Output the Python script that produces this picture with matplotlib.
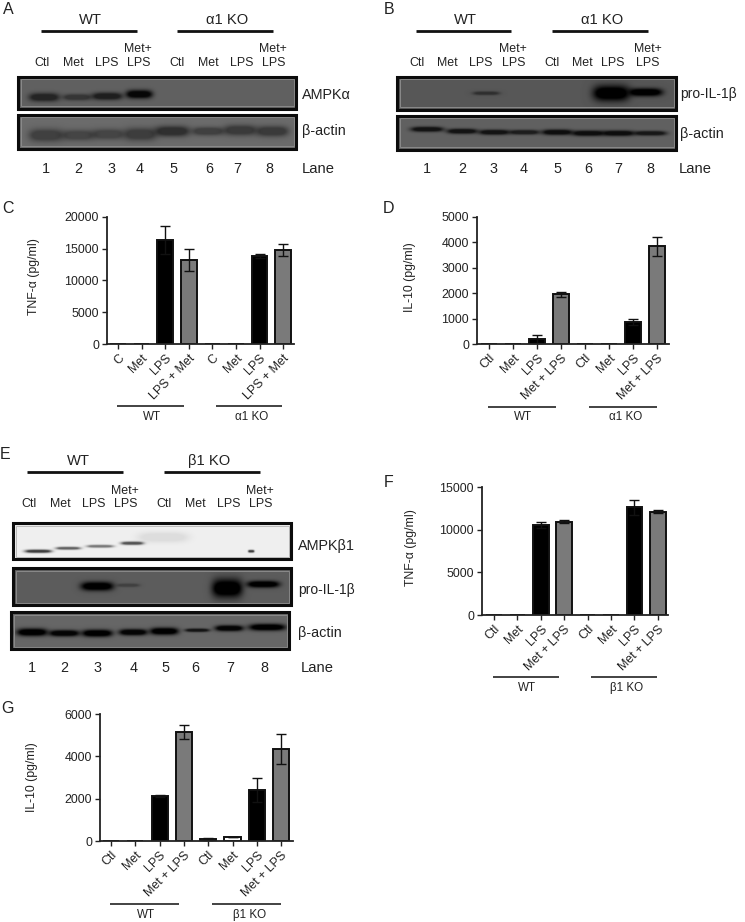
import numpy as np
import matplotlib
matplotlib.use('Agg')
import matplotlib.pyplot as plt
from matplotlib.patches import Rectangle

plt.rcParams['font.family'] = ['Liberation Sans', 'DejaVu Sans']

W, H = 745, 922
TEXT = '#222222'

# ---- bar chart values (pg/ml) ----
C_LABELS = ['C', 'Met', 'LPS', 'LPS + Met', 'C', 'Met', 'LPS', 'LPS + Met']
OTHER_LABELS = ['Ctl', 'Met', 'LPS', 'Met + LPS', 'Ctl', 'Met', 'LPS', 'Met + LPS']

C_TNF = [0, 0, 16300, 13200, 0, 0, 13800, 14800]
C_ERR = [0, 0, 2200, 1750, 0, 0, 350, 950]
C_TICKS = [0, 5000, 10000, 15000, 20000]

D_IL10 = [0, 0, 200, 1950, 0, 0, 870, 3830]
D_ERR = [0, 0, 150, 110, 0, 0, 130, 370]
D_TICKS = [0, 1000, 2000, 3000, 4000, 5000]

F_TNF = [0, 0, 10500, 10950, 0, 0, 12600, 12100]
F_ERR = [0, 0, 350, 150, 0, 0, 850, 180]
F_TICKS = [0, 5000, 10000, 15000]

G_IL10 = [0, 0, 2130, 5150, 90, 190, 2420, 4350]
G_ERR = [0, 0, 40, 320, 40, 20, 570, 710]
G_TICKS = [0, 2000, 4000, 6000]

BAR_COLORS = ['white', 'white', 'black', '#7a7a7a'] * 2

# ---- blot band intensities, one per lane (0 = no band) ----
A_AMPK = [0.62, 0.45, 0.68, 0.92, 0, 0, 0, 0]
A_ACTIN = [0.40, 0.35, 0.35, 0.42, 0.55, 0.40, 0.45, 0.45]
B_IL1 = [0, 0, 0.45, 0, 0, 0, 1.0, 1.0]
B_ACTIN = [0.8, 0.8, 0.8, 0.7, 0.85, 0.85, 0.85, 0.75]
E_AMPK = [0.75, 0.6, 0.5, 0.65, 0.08, 0, 0, 0.75]
E_IL1 = [0, 0, 1.0, 0.3, 0, 0, 1.0, 1.0]
E_ACTIN = [1.0, 0.95, 1.0, 0.95, 1.0, 0.8, 0.95, 1.0]

LANE_TOP = ['Ctl', 'Met', 'LPS', 'LPS', 'Ctl', 'Met', 'LPS', 'LPS']
LANE_NUMS = ['1', '2', '3', '4', '5', '6', '7', '8']

fig = plt.figure(figsize=(W / 100, H / 100), dpi=100, facecolor='white')

# overlay in image pixels, for the blots, group bars and free text
pg = fig.add_axes([0, 0, 1, 1])
pg.set_xlim(0, W)
pg.set_ylim(H, 0)
pg.axis('off')


def put(x, y, s, size=8.9, ha='center', **kw):
    pg.text(x, y, s, fontsize=size, ha=ha, va='center', color=TEXT, **kw)


def draw_blot(x0, x1, y0, y1, bg, levels, xs, ys, half_w, half_h, inner='#8a8a8a'):
    # lanes are rebuilt as soft smears on a flat film background
    gx, gy = np.meshgrid(np.arange(x0, x1, 0.5), np.arange(y0, y1, 0.5))
    img = np.full(gx.shape, float(bg))
    for lvl, cx, cy, hw, hh in zip(levels, xs, ys, half_w, half_h):
        if lvl == 0:
            continue
        band = np.exp(-((gx - cx) / hw) ** 4) * np.exp(-((gy - cy) / hh) ** 2)
        # strong signal saturates the film, so the core goes flat
        img *= 1 - lvl * np.clip(1.5 * band, 0, 1)
    pg.imshow(img, extent=(x0, x1, y1, y0), cmap='gray', vmin=0, vmax=1,
              aspect='auto', interpolation='bilinear', zorder=1)
    pg.add_patch(Rectangle((x0 + 2.5, y0 + 2.5), x1 - x0 - 5, y1 - y0 - 5, fill=False,
                           ec=inner, lw=0.7, zorder=2))
    pg.add_patch(Rectangle((x0, y0), x1 - x0, y1 - y0, fill=False,
                           ec='#0c0c0c', lw=2.2, zorder=3))
    pg.set_xlim(0, W)
    pg.set_ylim(H, 0)


def blot_header(bars, group_y, names, name_xs, lab_xs, met_xs, lab_y, met_y, num_xs, num_y, lane_x):
    for (a, b) in bars:
        pg.plot([a, b], [group_y, group_y], color='#111111', lw=2.0, solid_capstyle='butt')
    for name, x in zip(names, name_xs):
        put(x, group_y - 11, name, size=10.6)
    for s, x in zip(LANE_TOP, lab_xs):
        put(x, lab_y, s)
    for x in met_xs:
        put(x, met_y, 'Met+')
    for s, x in zip(LANE_NUMS, num_xs):
        put(x, num_y, s, size=10.4)
    put(lane_x, num_y, 'Lane', size=10.6, ha='left')


def bar_panel(left, right, top, bottom, first, step, vals, errs, ticks, labels):
    ax = fig.add_axes([left / W, 1 - bottom / H, (right - left) / W, (bottom - top) / H])
    ax.patch.set_alpha(0)
    xs = np.arange(8)
    ax.bar(xs, vals, width=0.66, color=BAR_COLORS, edgecolor='#111111', linewidth=1.4)
    for x, v, e in zip(xs, vals, errs):
        if e > 0:
            ax.errorbar(x, v, yerr=e, color='#111111', elinewidth=1.0, capsize=3.4,
                        capthick=1.0, clip_on=False)
    ax.set_xlim((left - first) / step, (right - first) / step)
    ax.set_ylim(0, ticks[-1])
    ax.set_yticks(ticks)
    ax.set_xticks(xs)
    ax.set_xticklabels(labels, rotation=45, ha='right', va='top', rotation_mode='anchor')
    ax.tick_params(axis='both', labelsize=8.9, length=3.8, width=1.0, color='#222222',
                   labelcolor=TEXT, pad=2)
    for side in ('top', 'right'):
        ax.spines[side].set_visible(False)
    for side in ('left', 'bottom'):
        ax.spines[side].set_linewidth(1.3)
        ax.spines[side].set_color('#222222')
    return ax


def group_rule(y, spans, names, name_xs):
    for (a, b) in spans:
        pg.plot([a, b], [y, y], color='#222222', lw=1.2, solid_capstyle='butt')
    for name, x in zip(names, name_xs):
        put(x, y + 10.5, name, size=8.4)


# ---- panel letters ----
for s, x, y in [('A', 8, 9), ('B', 389, 9), ('C', 8, 208), ('D', 389, 208),
                ('E', 5, 454), ('F', 389, 482), ('G', 8, 708)]:
    put(x, y, s, size=11.5)

# ---- panel A ----
blot_header([(41, 137), (177, 273)], 31, ['WT', 'α1 KO'], [90, 227],
            [42, 73, 107, 139, 177, 208, 242, 274], [138, 273], 63, 49,
            [46, 78, 111, 140, 173, 209, 237, 269], 169, 302)
draw_blot(18, 296, 77, 109, 0.38, A_AMPK,
          [44, 77, 107, 139, 170, 205, 240, 272], [97, 97, 96, 94, 96, 96, 96, 96],
          [15, 14, 15, 13, 14, 14, 14, 14], [4, 3, 3.5, 4, 3, 3, 3, 3])
draw_blot(18, 296, 115, 149, 0.42, A_ACTIN,
          [46, 78, 108, 140, 172, 208, 240, 272], [135, 135, 134, 134, 131, 131, 130, 131],
          [17, 16, 16, 16, 17, 16, 16, 16], [6, 5, 5, 6, 5, 4, 5, 5])
put(302, 95, 'AMPKα', size=10.4, ha='left')
put(302, 131, 'β-actin', size=10.4, ha='left')

# ---- panel B ----
blot_header([(416, 511), (552, 648)], 31, ['WT', 'α1 KO'], [465, 602],
            [417, 447, 481, 514, 552, 582, 613, 648], [513, 648], 63, 49,
            [427, 462, 494, 524, 557, 588, 618, 650], 169, 679)
draw_blot(397, 676, 77, 110, 0.34, B_IL1,
          [427, 462, 486, 524, 557, 588, 611, 645], [93, 93, 93, 93, 93, 93, 93, 92],
          [14, 14, 13, 14, 14, 14, 18, 17], [2, 2, 1.7, 2, 2, 2, 7.5, 3.8])
draw_blot(397, 676, 116, 150, 0.38, B_ACTIN,
          [427, 462, 494, 524, 557, 588, 618, 650], [129, 131, 132, 132, 132, 133, 133, 133],
          [16, 15, 15, 15, 15, 16, 16, 16], [2.4, 2.4, 2.4, 2.2, 2.6, 2.6, 2.6, 2.2])
put(680, 94, 'pro-IL-1β', size=10.0, ha='left')
put(680, 134, 'β-actin', size=10.4, ha='left')

# ---- panel E ----
blot_header([(27, 123), (164, 260)], 472, ['WT', 'β1 KO'], [78, 209],
            [29, 60, 94, 126, 164, 195, 229, 261], [125, 260], 504, 491,
            [32, 64, 97, 134, 165, 195, 230, 264], 668, 301)
draw_blot(13, 291, 523, 559, 0.94, E_AMPK,
          [38, 68, 100, 132, 163, 195, 230, 251], [551, 548, 546, 543, 537, 540, 540, 551],
          [13, 12, 13, 11, 25, 10, 10, 3], [1.5, 1.3, 1.3, 1.5, 5, 2, 2, 1.2], inner='#bbbbbb')
draw_blot(13, 291, 568, 605, 0.36, E_IL1,
          [32, 64, 97, 128, 165, 195, 227, 263], [586, 586, 586, 585, 586, 586, 588, 584],
          [14, 14, 16, 11, 14, 14, 15, 16], [2, 2, 4.2, 1.6, 2, 2, 9, 3.2])
draw_blot(11, 289, 612, 649, 0.40, E_ACTIN,
          [32, 64, 97, 133, 164, 197, 229, 267], [632, 633, 633, 632, 631, 630, 628, 627],
          [15, 15, 15, 14, 14, 12, 14, 18], [3.6, 3, 3.4, 3, 3.4, 1.6, 2.8, 3.2])
put(298, 546, 'AMPKβ1', size=10.4, ha='left')
put(298, 590, 'pro-IL-1β', size=10.0, ha='left')
put(298, 633, 'β-actin', size=10.4, ha='left')

# ---- bar panels ----
bar_panel(107, 294, 216.7, 344, 118, 23.6, C_TNF, C_ERR, C_TICKS, C_LABELS)
put(34, 277, 'TNF-α (pg/ml)', size=8.8, rotation=90)
group_rule(406, [(117, 184), (216, 282)], ['WT', 'α1 KO'], [152, 252])

bar_panel(477, 669, 216.7, 344, 489, 24, D_IL10, D_ERR, D_TICKS, OTHER_LABELS)
put(410, 277, 'IL-10 (pg/ml)', size=8.8, rotation=90)
group_rule(406.5, [(488, 556), (589, 657)], ['WT', 'α1 KO'], [523, 626])

bar_panel(482, 668, 487, 615, 494, 23.4, F_TNF, F_ERR, F_TICKS, OTHER_LABELS)
put(411, 548, 'TNF-α (pg/ml)', size=8.8, rotation=90)
group_rule(677, [(493, 559), (591, 657)], ['WT', 'β1 KO'], [527, 627])

bar_panel(100, 293, 714, 841, 111, 24.3, G_IL10, G_ERR, G_TICKS, OTHER_LABELS)
put(32, 777, 'IL-10 (pg/ml)', size=8.8, rotation=90)
group_rule(904, [(110, 179), (212, 281)], ['WT', 'β1 KO'], [146, 250])

fig.savefig('out.png', dpi=100, facecolor='white')
